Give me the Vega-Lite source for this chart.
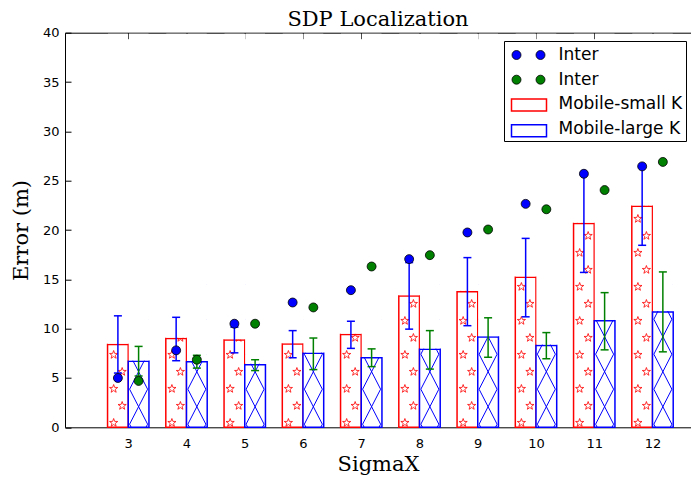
{
  "$schema": "https://vega.github.io/schema/vega-lite/v6.json",
  "width": 626,
  "height": 394.6,
  "autosize": {"type": "none"},
  "padding": {"left": 65, "top": 32.7, "right": 0, "bottom": 52.7},
  "background": "white",
  "title": {
    "text": "SDP Localization",
    "font": "DejaVu Serif",
    "fontSize": 21,
    "fontWeight": "normal",
    "color": "black",
    "baseline": "alphabetic",
    "offset": 7,
    "dy": 27
  },
  "data": {
    "values": [
      {"sigma": 3, "small": 8.4, "large": 6.7, "interA": 5.0, "interB": 4.7, "aLo": 5.5, "aHi": 11.3, "bLo": 5.2, "bHi": 8.2},
      {"sigma": 4, "small": 9.0, "large": 6.65, "interA": 7.8, "interB": 6.85, "aLo": 6.75, "aHi": 11.15, "bLo": 6.0, "bHi": 7.3},
      {"sigma": 5, "small": 8.85, "large": 6.35, "interA": 10.5, "interB": 10.5, "aLo": 7.55, "aHi": 10.15, "bLo": 5.75, "bHi": 6.85},
      {"sigma": 6, "small": 8.45, "large": 7.5, "interA": 12.65, "interB": 12.15, "aLo": 7.05, "aHi": 9.8, "bLo": 5.85, "bHi": 9.05},
      {"sigma": 7, "small": 9.4, "large": 7.05, "interA": 13.9, "interB": 16.3, "aLo": 8.0, "aHi": 10.75, "bLo": 6.15, "bHi": 7.95},
      {"sigma": 8, "small": 13.3, "large": 7.9, "interA": 17.05, "interB": 17.45, "aLo": 9.95, "aHi": 16.7, "bLo": 5.9, "bHi": 9.8},
      {"sigma": 9, "small": 13.75, "large": 9.15, "interA": 19.75, "interB": 20.05, "aLo": 10.3, "aHi": 17.2, "bLo": 7.1, "bHi": 11.1},
      {"sigma": 10, "small": 15.2, "large": 8.3, "interA": 22.65, "interB": 22.1, "aLo": 11.2, "aHi": 19.15, "bLo": 6.95, "bHi": 9.6},
      {"sigma": 11, "small": 20.65, "large": 10.8, "interA": 25.7, "interB": 24.05, "aLo": 15.7, "aHi": 25.6, "bLo": 7.85, "bHi": 13.65},
      {"sigma": 12, "small": 22.4, "large": 11.7, "interA": 26.45, "interB": 26.9, "aLo": 18.45, "aHi": 26.35, "bLo": 7.65, "bHi": 15.75}
    ]
  },
  "resolve": {"axis": {"x": "independent"}},
  "layer": [
    {
      "mark": {"type": "bar", "fill": "white", "width": 20.7, "xOffset": -10.35, "strokeWidth": 1.5},
      "encoding": {
        "x": {"field": "sigma", "type": "quantitative", "title": "SigmaX",
              "scale": {"domain": [2, 12.575], "nice": false, "zero": false},
              "axis": {"values": [3, 4, 5, 6, 7, 8, 9, 10, 11, 12], "orient": "bottom"}},
        "y": {"field": "small", "type": "quantitative", "title": "Error (m)",
              "scale": {"domain": [0, 40], "nice": false},
              "axis": {"values": [0, 5, 10, 15, 20, 25, 30, 35, 40]}},
        "stroke": {"datum": "Mobile-small K", "type": "nominal",
                   "scale": {"domain": ["Mobile-small K", "Mobile-large K"], "range": ["#ff0000", "#0000ff"]},
                   "legend": {
                     "title": null,
                     "orient": "none",
                     "legendX": 439,
                     "legendY": 57.9,
                     "padding": 3.5,
                     "symbolType": "M-1.75,-0.6H1.75V0.6H-1.75Z",
                     "symbolSize": 400,
                     "symbolFillColor": "white",
                     "symbolStrokeWidth": 1.5,
                     "symbolOffset": 10.5,
                     "labelOffset": 19.5,
                     "labelFontSize": 17,
                     "labelExpr": "''",
                     "rowPadding": 5.7,
                     "zindex": 2
                   }}
      }
    },
    {
      "mark": {"type": "bar", "fill": "white", "width": 20.7, "xOffset": 10.35, "strokeWidth": 1.5},
      "encoding": {
        "x": {"field": "sigma", "type": "quantitative", "scale": {"domain": [2, 12.575], "nice": false, "zero": false}, "axis": null},
        "y": {"field": "large", "type": "quantitative", "title": "Error (m)", "scale": {"domain": [0, 40], "nice": false}},
        "stroke": {"datum": "Mobile-large K", "type": "nominal"}
      }
    },
    {
      "mark": {"type": "point", "filled": false, "stroke": "#ff0000", "strokeWidth": 0.8, "strokeJoin": "bevel", "opacity": 1, "size": 4, "xOffset": -10.35,
               "shape": "M-4.25,-8.8l1.03,2.88l3.06,0.09l-2.43,1.87l0.87,2.94l-2.53,-1.73l-2.53,1.73l0.87,-2.94l-2.43,-1.87l3.06,-0.09zM4.25,-25.8l1.03,2.88l3.06,0.09l-2.43,1.87l0.87,2.94l-2.53,-1.73l-2.53,1.73l0.87,-2.94l-2.43,-1.87l3.06,-0.09zM-4.25,-42.8l1.03,2.88l3.06,0.09l-2.43,1.87l0.87,2.94l-2.53,-1.73l-2.53,1.73l0.87,-2.94l-2.43,-1.87l3.06,-0.09zM4.25,-59.8l1.03,2.88l3.06,0.09l-2.43,1.87l0.87,2.94l-2.53,-1.73l-2.53,1.73l0.87,-2.94l-2.43,-1.87l3.06,-0.09zM-4.25,-76.8l1.03,2.88l3.06,0.09l-2.43,1.87l0.87,2.94l-2.53,-1.73l-2.53,1.73l0.87,-2.94l-2.43,-1.87l3.06,-0.09zM4.25,-93.8l1.03,2.88l3.06,0.09l-2.43,1.87l0.87,2.94l-2.53,-1.73l-2.53,1.73l0.87,-2.94l-2.43,-1.87l3.06,-0.09zM-4.25,-110.8l1.03,2.88l3.06,0.09l-2.43,1.87l0.87,2.94l-2.53,-1.73l-2.53,1.73l0.87,-2.94l-2.43,-1.87l3.06,-0.09zM4.25,-127.8l1.03,2.88l3.06,0.09l-2.43,1.87l0.87,2.94l-2.53,-1.73l-2.53,1.73l0.87,-2.94l-2.43,-1.87l3.06,-0.09zM-4.25,-144.8l1.03,2.88l3.06,0.09l-2.43,1.87l0.87,2.94l-2.53,-1.73l-2.53,1.73l0.87,-2.94l-2.43,-1.87l3.06,-0.09zM4.25,-161.8l1.03,2.88l3.06,0.09l-2.43,1.87l0.87,2.94l-2.53,-1.73l-2.53,1.73l0.87,-2.94l-2.43,-1.87l3.06,-0.09zM-4.25,-178.8l1.03,2.88l3.06,0.09l-2.43,1.87l0.87,2.94l-2.53,-1.73l-2.53,1.73l0.87,-2.94l-2.43,-1.87l3.06,-0.09zM4.25,-195.8l1.03,2.88l3.06,0.09l-2.43,1.87l0.87,2.94l-2.53,-1.73l-2.53,1.73l0.87,-2.94l-2.43,-1.87l3.06,-0.09zM-4.25,-212.8l1.03,2.88l3.06,0.09l-2.43,1.87l0.87,2.94l-2.53,-1.73l-2.53,1.73l0.87,-2.94l-2.43,-1.87l3.06,-0.09zM4.25,-229.8l1.03,2.88l3.06,0.09l-2.43,1.87l0.87,2.94l-2.53,-1.73l-2.53,1.73l0.87,-2.94l-2.43,-1.87l3.06,-0.09z"},
      "encoding": {
        "x": {"field": "sigma", "type": "quantitative", "scale": {"domain": [2, 12.575], "nice": false, "zero": false}, "axis": null},
        "y": {"datum": 0, "type": "quantitative", "title": "Error (m)", "scale": {"domain": [0, 40], "nice": false}}
      }
    },
    {
      "mark": {"type": "point", "filled": false, "stroke": "#0000ff", "strokeWidth": 1, "strokeJoin": "bevel", "opacity": 1, "size": 4, "xOffset": 10.35,
               "shape": "M-7.4,0L-9,-3.1L9,-38.1L-9,-73.1L9,-108.1L-9,-143.1M7.4,0L9,-3.1L-9,-38.1L9,-73.1L-9,-108.1L9,-143.1"},
      "encoding": {
        "x": {"field": "sigma", "type": "quantitative", "scale": {"domain": [2, 12.575], "nice": false, "zero": false}, "axis": null},
        "y": {"datum": 0, "type": "quantitative", "title": "Error (m)", "scale": {"domain": [0, 40], "nice": false}}
      }
    },
    {
      "mark": {"type": "bar", "fill": "white", "strokeWidth": 0, "width": 19.8, "xOffset": -10.35, "yOffset": -0.8},
      "encoding": {
        "x": {"field": "sigma", "type": "quantitative", "scale": {"domain": [2, 12.575], "nice": false, "zero": false}, "axis": null},
        "y": {"field": "small", "type": "quantitative", "title": "Error (m)", "scale": {"domain": [0, 40], "nice": false}},
        "y2": {"datum": 39.9}
      }
    },
    {
      "mark": {"type": "bar", "fill": "white", "strokeWidth": 0, "width": 19.8, "xOffset": 10.35, "yOffset": -0.8},
      "encoding": {
        "x": {"field": "sigma", "type": "quantitative", "scale": {"domain": [2, 12.575], "nice": false, "zero": false}, "axis": null},
        "y": {"field": "large", "type": "quantitative", "title": "Error (m)", "scale": {"domain": [0, 40], "nice": false}},
        "y2": {"datum": 39.9}
      }
    },
    {
      "mark": {"type": "rule", "xOffset": -10.35, "strokeWidth": 1.5, "color": "#0000ff"},
      "encoding": {
        "x": {"field": "sigma", "type": "quantitative", "scale": {"domain": [2, 12.575], "nice": false, "zero": false}, "axis": null},
        "y": {"field": "aLo", "type": "quantitative", "title": "Error (m)", "scale": {"domain": [0, 40], "nice": false}},
        "y2": {"field": "aHi"}
      }
    },
    {
      "transform": [{"fold": ["aLo", "aHi"], "as": ["end", "val"]}],
      "mark": {"type": "tick", "orient": "horizontal", "xOffset": -10.35, "size": 8, "thickness": 1.5, "color": "#0000ff", "opacity": 1},
      "encoding": {
        "x": {"field": "sigma", "type": "quantitative", "scale": {"domain": [2, 12.575], "nice": false, "zero": false}, "axis": null},
        "y": {"field": "val", "type": "quantitative", "title": "Error (m)", "scale": {"domain": [0, 40], "nice": false}}
      }
    },
    {
      "mark": {"type": "rule", "xOffset": 10.35, "strokeWidth": 1.5, "color": "#008000"},
      "encoding": {
        "x": {"field": "sigma", "type": "quantitative", "scale": {"domain": [2, 12.575], "nice": false, "zero": false}, "axis": null},
        "y": {"field": "bLo", "type": "quantitative", "title": "Error (m)", "scale": {"domain": [0, 40], "nice": false}},
        "y2": {"field": "bHi"}
      }
    },
    {
      "transform": [{"fold": ["bLo", "bHi"], "as": ["end", "val"]}],
      "mark": {"type": "tick", "orient": "horizontal", "xOffset": 10.35, "size": 8, "thickness": 1.5, "color": "#008000", "opacity": 1},
      "encoding": {
        "x": {"field": "sigma", "type": "quantitative", "scale": {"domain": [2, 12.575], "nice": false, "zero": false}, "axis": null},
        "y": {"field": "val", "type": "quantitative", "title": "Error (m)", "scale": {"domain": [0, 40], "nice": false}}
      }
    },
    {
      "mark": {"type": "circle", "xOffset": -10.35, "size": 80, "stroke": "black", "strokeWidth": 0.8, "opacity": 1},
      "encoding": {
        "x": {"field": "sigma", "type": "quantitative", "scale": {"domain": [2, 12.575], "nice": false, "zero": false},
              "axis": {"orient": "top", "labels": false, "title": null, "values": [3, 4, 5, 6, 7, 8, 9, 10, 11, 12]}},
        "y": {"field": "interA", "type": "quantitative", "title": "Error (m)", "scale": {"domain": [0, 40], "nice": false}},
        "fill": {"datum": "Inter-a", "type": "nominal",
                 "scale": {"domain": ["Inter-a", "Inter-b", "Mobile-small K", "Mobile-large K"],
                           "range": ["#0000ff", "#008000", "white", "white"]},
                 "legend": {
                   "title": null,
                   "orient": "none",
                   "legendX": 439,
                   "legendY": 8.3,
                   "strokeColor": "black",
                   "fillColor": "white",
                   "padding": 3.5,
                   "symbolType": "M-1.65,0a0.45,0.45 0 1,0 0.9,0a0.45,0.45 0 1,0 -0.9,0ZM0.75,0a0.45,0.45 0 1,0 0.9,0a0.45,0.45 0 1,0 -0.9,0Z",
                   "symbolSize": 400,
                   "symbolStrokeColor": "black",
                   "symbolStrokeWidth": 0.8,
                   "symbolOffset": 10.5,
                   "labelOffset": 19.5,
                   "labelFontSize": 17,
                   "rowPadding": 5.7,
                   "labelExpr": "indexof(datum.label, 'Inter') === 0 ? 'Inter' : datum.label",
                   "zindex": 1
                 }}
      }
    },
    {
      "mark": {"type": "circle", "xOffset": 10.35, "size": 80, "stroke": "black", "strokeWidth": 0.8, "opacity": 1},
      "encoding": {
        "x": {"field": "sigma", "type": "quantitative", "scale": {"domain": [2, 12.575], "nice": false, "zero": false}, "axis": null},
        "y": {"field": "interB", "type": "quantitative", "title": "Error (m)", "scale": {"domain": [0, 40], "nice": false}},
        "fill": {"datum": "Inter-b", "type": "nominal"}
      }
    }
  ],
  "config": {
    "view": {"stroke": "black", "strokeWidth": 1},
    "axis": {
      "domain": false,
      "grid": false,
      "tickColor": "black",
      "tickSize": -6,
      "tickWidth": 1,
      "labelFont": "DejaVu Sans",
      "labelFontSize": 13,
      "labelColor": "black",
      "titleFont": "DejaVu Serif",
      "titleFontSize": 21,
      "titleFontWeight": "normal",
      "titleColor": "black"
    },
    "axisX": {"labelPadding": 16, "titlePadding": 3},
    "axisY": {"labelPadding": 12, "titlePadding": 11},
    "legend": {
      "cornerRadius": 0,
      "labelFont": "DejaVu Sans",
      "labelColor": "black"
    }
  }
}
